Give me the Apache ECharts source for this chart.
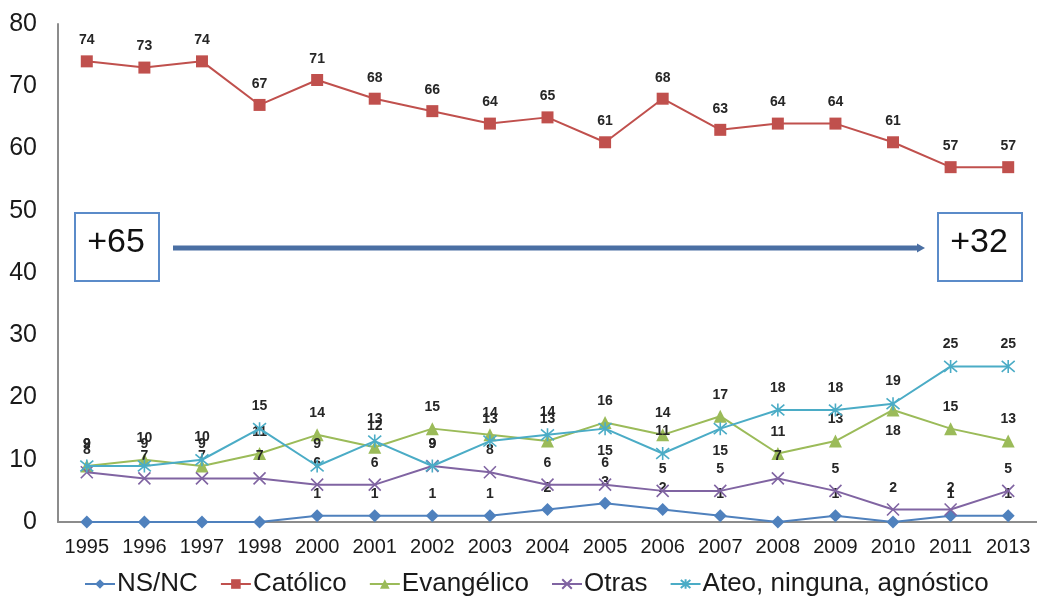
<!DOCTYPE html>
<html>
<head>
<meta charset="utf-8">
<script src="https://cdn.jsdelivr.net/npm/echarts@6/dist/echarts.min.js"></script>
<style>
html,body{margin:0;padding:0;background:#fff;}
#chart{width:1037px;height:602px;}
</style>
</head>
<body>
<div id="chart"></div>
<script>
const years = ['1995','1996','1997','1998','2000','2001','2002','2003','2004','2005','2006','2007','2008','2009','2010','2011','2013'];
const nsnc      = [0,0,0,0,1,1,1,1,2,3,2,1,0,1,0,1,1];
const catolico  = [74,73,74,67,71,68,66,64,65,61,68,63,64,64,61,57,57];
const evangelico= [9,10,9,11,14,12,15,14,13,16,14,17,11,13,18,15,13];
const otras     = [8,7,7,7,6,6,9,8,6,6,5,5,7,5,2,2,5];
const ateo      = [9,9,10,15,9,13,9,13,14,15,11,15,18,18,19,25,25];
const seriesNames = ['NS/NC','Católico','Evangélico','Otras','Ateo, ninguna, agnóstico'];
const yTicks = [0,10,20,30,40,50,60,70,80];
const boxLabels = ['+65','+32'];

const sans = '"Liberation Sans", Arial, sans-serif';

const colors = ['#4F81BD','#C0504D','#9BBB59','#8064A2','#4BACC6'];
const xSym = 'path://M0,0 L10,10 M10,0 L0,10';
const starSym = 'path://M5,-1 L5,11 M0,0 L10,10 M10,0 L0,10';

function items(vals, below, hideZero){
  return vals.map((v,i)=>{
    const it = {value:v};
    if (hideZero && v === 0) it.label = {show:false};
    else if (below.indexOf(i) >= 0) it.label = {position:'bottom', distance:8};
    return it;
  });
}

const labelBase = {show:true, position:'top', distance:8, fontSize:14, fontWeight:'bold', color:'#262626', fontFamily:sans};

function mk(name, vals, idx, symbol, size, below, hideZero, strokeSym){
  const s = {
    name:name, type:'line', data:items(vals, below||[], hideZero),
    symbol:symbol, symbolSize:size,
    lineStyle:{color:colors[idx], width:2},
    itemStyle:{color:colors[idx]},
    label:Object.assign({}, labelBase),
    z: 2+idx
  };
  if (strokeSym) s.itemStyle = {color:'rgba(0,0,0,0)', borderColor:colors[idx], borderWidth:1.6};
  return s;
}

const chart = echarts.init(document.getElementById('chart'), null, {renderer:'canvas'});
chart.setOption({
  animation:false,
  backgroundColor:'#fff',
  grid:{left:58, top:24, bottom:80, width:981, containLabel:false},
  xAxis:{
    type:'category', data:years, boundaryGap:true,
    axisLine:{lineStyle:{color:'#8c8c8c', width:2}},
    axisTick:{show:false},
    axisLabel:{fontSize:20, color:'#1a1a1a', fontFamily:sans, margin:15, interval:0}
  },
  yAxis:{
    type:'value', min:yTicks[0], max:yTicks[yTicks.length-1], interval:10,
    splitLine:{show:false},
    axisLine:{show:true, lineStyle:{color:'#8c8c8c', width:2}},
    axisTick:{show:false},
    axisLabel:{fontSize:25, color:'#1a1a1a', fontFamily:sans, margin:21}
  },
  legend:{
    bottom:0, left:79, itemWidth:30, itemHeight:12, itemGap:22,
    textStyle:{fontSize:26, color:'#1a1a1a', fontFamily:sans, padding:[0,0,0,-3]},
    data:seriesNames
  },
  series:[
    mk(seriesNames[0], nsnc, 0, 'diamond', 13, [], true),
    mk(seriesNames[1], catolico, 1, 'rect', 12, []),
    mk(seriesNames[2], evangelico, 2, 'triangle', 13, [14]),
    mk(seriesNames[3], otras, 3, xSym, 12, [], false, true),
    mk(seriesNames[4], ateo, 4, starSym, 13, [9,11], false, true)
  ],
  graphic:[
    {type:'rect', shape:{x:75, y:213, width:84, height:68}, style:{fill:'#fff', stroke:'#5B8BC9', lineWidth:2}},
    {type:'text', style:{x:116, y:243, text:boxLabels[0], fontSize:34, fill:'#111', fontFamily:sans, align:'center', verticalAlign:'middle'}},
    {type:'rect', shape:{x:938, y:213, width:84, height:68}, style:{fill:'#fff', stroke:'#5B8BC9', lineWidth:2}},
    {type:'text', style:{x:979, y:243, text:boxLabels[1], fontSize:34, fill:'#111', fontFamily:sans, align:'center', verticalAlign:'middle'}},
    {type:'line', shape:{x1:173, y1:248, x2:919, y2:248}, style:{stroke:'#4A6FA3', lineWidth:5}},
    {type:'polygon', shape:{points:[[917,243.5],[925,248],[917,252.5]]}, style:{fill:'#4A6FA3'}}
  ]
});
</script>
</body>
</html>
